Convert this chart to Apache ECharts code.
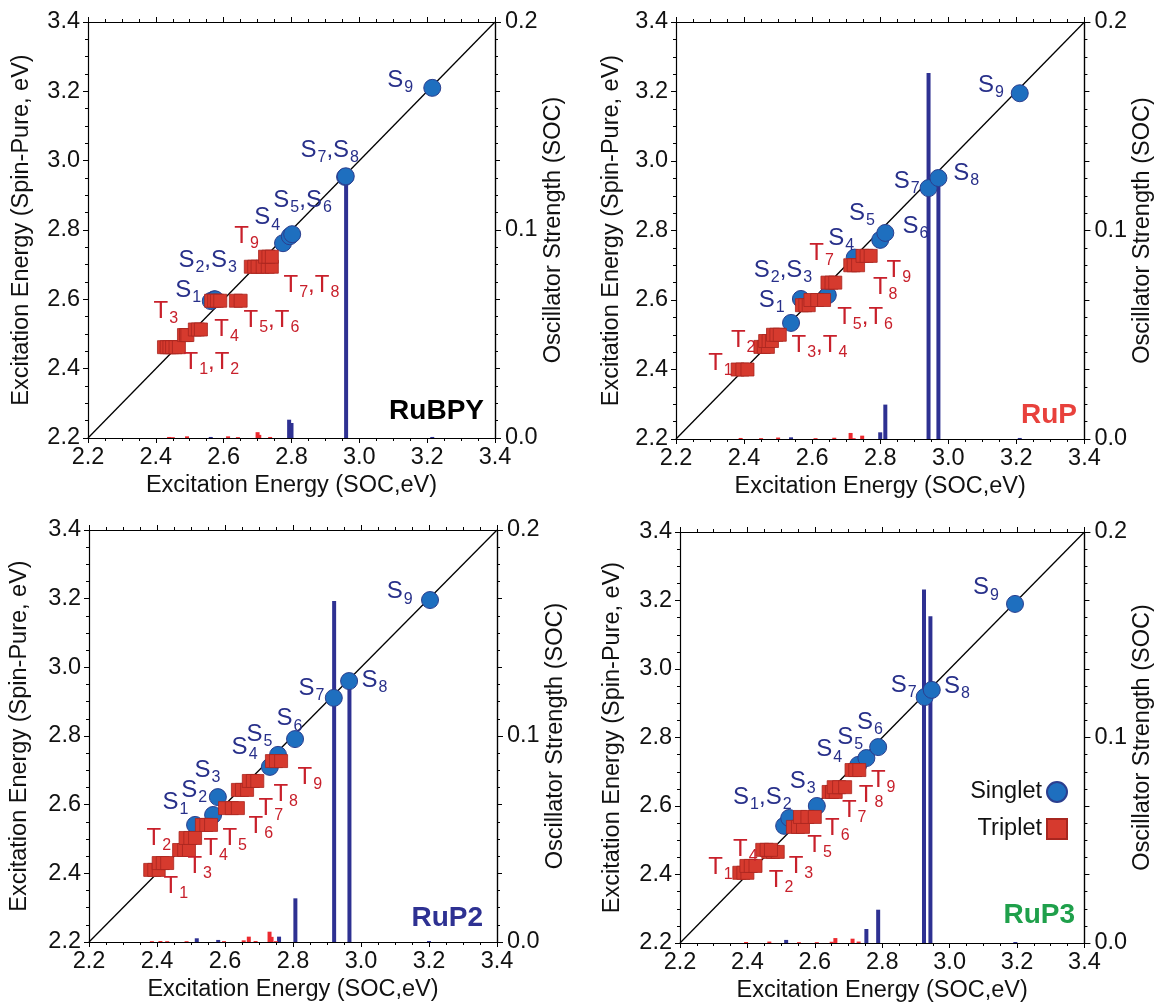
<!DOCTYPE html>
<html><head><meta charset="utf-8">
<script src="https://cdn.jsdelivr.net/npm/echarts@6/dist/echarts.min.js"></script>
<style>html,body{margin:0;padding:0;background:#fff}#c{width:1156px;height:1006px}</style>
</head><body><div id="c"></div>
<script>
// ---------- tick labels ----------
const energyTicks = ['2.2', '2.4', '2.6', '2.8', '3.0', '3.2', '3.4'];
const oscTicks = ['0.0', '0.1', '0.2'];
const panelNames = ['RuBPY', 'RuP', 'RuP2', 'RuP3'];

// ---------- RuBPY ----------  [SOC energy, spin-pure energy]
const rubpySinglets = [[2.562, 2.595], [2.572, 2.600], [2.575, 2.600], [2.775, 2.762], [2.795, 2.782], [2.802, 2.788], [2.958, 2.953], [2.960, 2.955], [3.215, 3.210]];
const rubpyTriplets = [
  [2.424, 2.462], [2.432, 2.462], [2.440, 2.462], [2.448, 2.462], [2.458, 2.462], [2.468, 2.462],
  [2.483, 2.497], [2.489, 2.497], [2.493, 2.497],
  [2.515, 2.513], [2.524, 2.513], [2.533, 2.513],
  [2.563, 2.596], [2.572, 2.596], [2.580, 2.596], [2.590, 2.596], [2.636, 2.596], [2.650, 2.596],
  [2.680, 2.694], [2.690, 2.694], [2.700, 2.694], [2.715, 2.694], [2.730, 2.694], [2.742, 2.694],
  [2.722, 2.723], [2.732, 2.723], [2.742, 2.723]];
const rubpySingletBars = [[2.562, 0.0005], [2.793, 0.0088], [2.800, 0.0072], [2.961, 0.125], [3.215, 0.0005]];
const rubpyTripletBars = [[2.439, 0.0005], [2.450, 0.0004], [2.492, 0.0008], [2.613, 0.0008], [2.642, 0.0004], [2.700, 0.0028], [2.705, 0.0015], [2.737, 0.0005]];
const rubpyLabels = [['S9', 3.081, 3.233], ['S7,S8', 2.825, 3.031], ['S5,S6', 2.745, 2.886], ['S4', 2.689, 2.835], ['S2,S3', 2.465, 2.713], ['S1', 2.456, 2.627],
  ['T9', 2.630, 2.783], ['T7,T8', 2.775, 2.641], ['T5,T6', 2.657, 2.540], ['T4', 2.571, 2.514], ['T3', 2.392, 2.566], ['T1,T2', 2.480, 2.419]];

// ---------- RuP ----------
const rupSinglets = [[2.538, 2.534], [2.567, 2.603], [2.646, 2.614], [2.725, 2.722], [2.800, 2.773], [2.815, 2.793], [2.942, 2.922], [2.971, 2.951], [3.210, 3.195]];
const rupTriplets = [
  [2.381, 2.400], [2.395, 2.400], [2.410, 2.400],
  [2.448, 2.465], [2.458, 2.465], [2.470, 2.465],
  [2.462, 2.482], [2.472, 2.482], [2.482, 2.482],
  [2.485, 2.500], [2.495, 2.500], [2.505, 2.500],
  [2.570, 2.585], [2.580, 2.585], [2.590, 2.585],
  [2.595, 2.600], [2.615, 2.600], [2.635, 2.600],
  [2.645, 2.650], [2.657, 2.650], [2.668, 2.650],
  [2.712, 2.700], [2.722, 2.700], [2.735, 2.700],
  [2.748, 2.727], [2.760, 2.727], [2.772, 2.727]];
const rupSingletBars = [[2.538, 0.0008], [2.800, 0.0032], [2.815, 0.0165], [2.942, 0.1755], [2.971, 0.124], [3.210, 0.0005]];
const rupTripletBars = [[2.390, 0.0005], [2.450, 0.0004], [2.500, 0.0007], [2.610, 0.0004], [2.665, 0.0006], [2.713, 0.0029], [2.722, 0.0004], [2.747, 0.0016]];
const rupLabels = [['S9', 3.086, 3.219], ['S7', 2.838, 2.942], ['S8', 3.013, 2.965], ['S5', 2.707, 2.850], ['S4', 2.646, 2.778], ['S6', 2.864, 2.813],
  ['S2,S3', 2.427, 2.686], ['S1', 2.442, 2.600], ['T7', 2.590, 2.735], ['T9', 2.817, 2.686], ['T8', 2.777, 2.637], ['T5,T6', 2.672, 2.551],
  ['T2', 2.360, 2.485], ['T3,T4', 2.538, 2.470], ['T1', 2.293, 2.419]];

// ---------- RuP2 ----------
const rup2Singlets = [[2.512, 2.541], [2.565, 2.570], [2.579, 2.622], [2.732, 2.710], [2.756, 2.745], [2.806, 2.791], [2.920, 2.911], [2.965, 2.960], [3.203, 3.196]];
const rup2Triplets = [
  [2.380, 2.410], [2.392, 2.410], [2.405, 2.410],
  [2.405, 2.430], [2.417, 2.430], [2.430, 2.430],
  [2.465, 2.468], [2.480, 2.468], [2.494, 2.468],
  [2.484, 2.503], [2.498, 2.503], [2.512, 2.503],
  [2.532, 2.541], [2.545, 2.541], [2.559, 2.541],
  [2.600, 2.590], [2.620, 2.590], [2.638, 2.590],
  [2.638, 2.643], [2.650, 2.643], [2.665, 2.643],
  [2.670, 2.669], [2.682, 2.669], [2.695, 2.669],
  [2.738, 2.727], [2.750, 2.727], [2.765, 2.727]];
const rup2SingletBars = [[2.517, 0.0018], [2.580, 0.0010], [2.759, 0.0026], [2.807, 0.0212], [2.921, 0.1655], [2.966, 0.125], [3.200, 0.0005]];
const rup2TripletBars = [[2.385, 0.0004], [2.410, 0.0005], [2.430, 0.0004], [2.487, 0.0004], [2.597, 0.0004], [2.655, 0.0008], [2.670, 0.0026], [2.690, 0.0005], [2.731, 0.0050], [2.737, 0.0025], [2.750, 0.0004]];
const rup2Labels = [['S9', 3.074, 3.220], ['S7', 2.815, 2.940], ['S8', 3.000, 2.963], ['S6', 2.750, 2.850], ['S5', 2.662, 2.806], ['S4', 2.618, 2.768],
  ['S3', 2.509, 2.700], ['S2', 2.470, 2.643], ['S1', 2.415, 2.608], ['T9', 2.812, 2.680], ['T8', 2.741, 2.631], ['T7', 2.697, 2.590],
  ['T6', 2.668, 2.538], ['T5', 2.591, 2.503], ['T4', 2.535, 2.474], ['T3', 2.488, 2.421], ['T2', 2.368, 2.503], ['T1', 2.418, 2.363]];

// ---------- RuP3 ----------
const rup3Singlets = [[2.509, 2.542], [2.524, 2.565], [2.606, 2.600], [2.729, 2.720], [2.753, 2.740], [2.788, 2.772], [2.926, 2.918], [2.947, 2.939], [3.194, 3.190]];
const rup3Triplets = [
  [2.376, 2.405], [2.388, 2.405], [2.400, 2.405],
  [2.397, 2.425], [2.410, 2.425], [2.424, 2.425],
  [2.462, 2.466], [2.476, 2.466], [2.490, 2.466],
  [2.444, 2.472], [2.457, 2.472], [2.470, 2.472],
  [2.535, 2.539], [2.550, 2.539], [2.565, 2.539],
  [2.556, 2.568], [2.578, 2.568], [2.600, 2.568],
  [2.641, 2.641], [2.651, 2.641], [2.662, 2.641],
  [2.656, 2.655], [2.672, 2.655], [2.690, 2.655],
  [2.709, 2.705], [2.720, 2.705], [2.732, 2.705]];
const rup3SingletBars = [[2.515, 0.0015], [2.753, 0.0068], [2.788, 0.0162], [2.924, 0.172], [2.943, 0.159], [3.195, 0.0005]];
const rup3TripletBars = [[2.396, 0.0005], [2.465, 0.0007], [2.553, 0.0004], [2.606, 0.0004], [2.650, 0.0006], [2.661, 0.0024], [2.712, 0.0021], [2.730, 0.0007]];
const rup3Labels = [['S9', 3.068, 3.237], ['S7', 2.824, 2.953], ['S8', 2.982, 2.950], ['S6', 2.724, 2.845], ['S5', 2.665, 2.801], ['S4', 2.603, 2.764],
  ['S3', 2.524, 2.673], ['S1,S2', 2.356, 2.626], ['T9', 2.765, 2.676], ['T8', 2.729, 2.632], ['T7', 2.679, 2.588], ['T6', 2.629, 2.536],
  ['T5', 2.576, 2.486], ['T4', 2.356, 2.474], ['T3', 2.521, 2.425], ['T2', 2.462, 2.384], ['T1', 2.282, 2.422]];

// ---------- assembly ----------
const panels = [
  {singlets: rubpySinglets, triplets: rubpyTriplets, sBars: rubpySingletBars, tBars: rubpyTripletBars, labels: rubpyLabels},
  {singlets: rupSinglets, triplets: rupTriplets, sBars: rupSingletBars, tBars: rupTripletBars, labels: rupLabels},
  {singlets: rup2Singlets, triplets: rup2Triplets, sBars: rup2SingletBars, tBars: rup2TripletBars, labels: rup2Labels},
  {singlets: rup3Singlets, triplets: rup3Triplets, sBars: rup3SingletBars, tBars: rup3TripletBars, labels: rup3Labels}
];
const layout = [
  {left: 88, top: 22, width: 407, height: 416, lGap: 54, rGap: 41, title: {right: 672, top: 397, color: '#000'}},
  {left: 676, top: 22, width: 410, height: 417, lGap: 52, rGap: 45, title: {right: 79, top: 401, color: '#e8413c'}},
  {left: 89, top: 530, width: 408, height: 412, lGap: 57, rGap: 41, title: {right: 673, top: 904, color: '#2e3192'}},
  {left: 680, top: 532, width: 408, height: 411, lGap: 55, rGap: 44, title: {right: 81, top: 901, color: '#1fa04b'}}
];
const FONT = '"Liberation Sans", Arial, Helvetica, sans-serif';
const BLACK = '#000';
const S_COLOR = '#28308a', T_COLOR = '#c8202b';

function richText(t) {
  const k = t[0] === 'S' ? 'S' : 'T';
  return t.split(',').map(p => '{m' + k + '|' + p[0] + '}{s' + k + '|' + p.slice(1) + '}').join('{m' + k + '|,}');
}
function fmtEnergy(v) { const i = energyTicks.findIndex(s => Math.abs(parseFloat(s) - v) < 1e-6); return i >= 0 ? energyTicks[i] : ''; }
function fmtOsc(v) { const i = oscTicks.findIndex(s => Math.abs(parseFloat(s) - v) < 1e-6); return i >= 0 ? oscTicks[i] : ''; }

const grid = [], xAxis = [], yAxis = [], series = [], title = [];
const lineStyle = {color: BLACK, width: 1.2};
const tickBase = {show: true, inside: false, length: 5, lineStyle: {color: BLACK, width: 1}};
const minorBase = {show: true, splitNumber: 4, length: 3, lineStyle: {color: BLACK, width: 1}};
const labelFont = {fontSize: 23.5, color: '#111', fontFamily: FONT};
const mainTok = {fontSize: 24, lineHeight: 27, fontFamily: FONT, opacity: 1};
const subTok = {fontSize: 16, lineHeight: 16, padding: [15, 0, 0, 1], fontFamily: FONT, opacity: 1};

panels.forEach((p, i) => {
  const L = layout[i];
  grid.push({left: L.left, top: L.top, width: L.width, height: L.height, containLabel: false});
  const eMin = parseFloat(energyTicks[0]), eMax = parseFloat(energyTicks[energyTicks.length - 1]);
  xAxis.push({type: 'value', gridIndex: i, position: 'bottom', min: eMin, max: eMax, interval: 0.2,
    axisLine: {show: true, lineStyle}, axisTick: tickBase, minorTick: minorBase, splitLine: {show: false},
    axisLabel: Object.assign({margin: 8, formatter: fmtEnergy}, labelFont),
    name: 'Excitation Energy (SOC,eV)', nameLocation: 'middle', nameGap: 36, nameTextStyle: labelFont});
  xAxis.push({type: 'value', gridIndex: i, position: 'top', min: eMin, max: eMax, interval: 0.2,
    axisLine: {show: true, lineStyle}, axisTick: tickBase, minorTick: minorBase, splitLine: {show: false},
    axisLabel: {show: false}});
  yAxis.push({type: 'value', gridIndex: i, position: 'left', min: eMin, max: eMax, interval: 0.2,
    axisLine: {show: true, lineStyle}, axisTick: tickBase, minorTick: minorBase, splitLine: {show: false},
    axisLabel: Object.assign({margin: 8, formatter: fmtEnergy}, labelFont),
    name: 'Excitation Energy (Spin-Pure, eV)', nameLocation: 'middle', nameRotate: 90, nameGap: L.lGap, nameTextStyle: labelFont});
  yAxis.push({type: 'value', gridIndex: i, position: 'right', min: eMin, max: eMax, interval: 0.2,
    axisLine: {show: true, lineStyle}, axisTick: tickBase, minorTick: minorBase, splitLine: {show: false},
    axisLabel: {show: false}});
  yAxis.push({type: 'value', gridIndex: i, position: 'right', min: 0, max: parseFloat(oscTicks[oscTicks.length - 1]), interval: 0.1,
    axisLine: {show: true, lineStyle}, axisTick: {show: true, inside: false, length: 6, lineStyle: {color: BLACK, width: 1}}, splitLine: {show: false},
    axisLabel: Object.assign({margin: 10, formatter: fmtOsc}, labelFont),
    name: 'Oscillator Strength (SOC)', nameLocation: 'middle', nameRotate: 90, nameGap: L.rGap, nameTextStyle: labelFont});

  const xb = 2 * i, yl = 3 * i, yo = 3 * i + 2;
  series.push({type: 'bar', name: 'sbar' + i, xAxisIndex: xb, yAxisIndex: yo, data: p.sBars, barWidth: 4, barGap: '-100%',
    itemStyle: {color: '#2e3192'}, z: 1, silent: true});
  series.push({type: 'bar', name: 'tbar' + i, xAxisIndex: xb, yAxisIndex: yo, data: p.tBars, barWidth: 4, barGap: '-100%',
    itemStyle: {color: '#ec2a2f'}, z: 1, silent: true});
  series.push({type: 'line', name: 'diag' + i, xAxisIndex: xb, yAxisIndex: yl, data: [[eMin, eMin], [eMax, eMax]], symbol: 'none',
    lineStyle: {color: BLACK, width: 1.3}, z: 2, silent: true});
  series.push({type: 'scatter', name: 'Singlet', xAxisIndex: xb, yAxisIndex: yl, data: p.singlets, symbol: 'circle', symbolSize: 17,
    itemStyle: {color: '#1e6fbf', borderColor: '#2b3f8f', borderWidth: 1, opacity: 1}, z: 3});
  series.push({type: 'scatter', name: 'Triplet', xAxisIndex: xb, yAxisIndex: yl, data: p.triplets, symbol: 'rect', symbolSize: 13,
    itemStyle: {color: '#d63a2e', borderColor: '#a8261f', borderWidth: 0.8, opacity: 1}, z: 4});
  series.push({type: 'scatter', name: 'lab' + i, xAxisIndex: xb, yAxisIndex: yl, symbolSize: 1, z: 5, silent: true,
    itemStyle: {color: 'rgba(0,0,0,0)'},
    data: p.labels.map(l => ({value: [l[1], l[2]], name: l[0]})),
    label: {show: true, position: 'right', distance: 0, fontFamily: FONT, opacity: 1,
      formatter: d => richText(d.name),
      rich: {
        mS: Object.assign({color: S_COLOR}, mainTok), sS: Object.assign({color: S_COLOR}, subTok),
        mT: Object.assign({color: T_COLOR}, mainTok), sT: Object.assign({color: T_COLOR}, subTok)}}});
  title.push({text: panelNames[i], right: L.title.right, top: L.title.top, padding: 0,
    textStyle: {fontSize: 28, fontWeight: 'bold', color: L.title.color, fontFamily: FONT}});
});

const chart = echarts.init(document.getElementById('c'), null, {renderer: 'canvas'});
chart.setOption({
  animation: false,
  backgroundColor: '#fff',
  title, grid, xAxis, yAxis, series,
  legend: {data: [{name: 'Singlet', icon: 'circle'}, {name: 'Triplet', icon: 'rect'}],
    orient: 'vertical', align: 'right', right: 88, top: 775, itemWidth: 20, itemHeight: 20, itemGap: 13, padding: [5, 0, 5, 5],
    textStyle: {fontSize: 23.5, color: '#111', fontFamily: FONT}, selectedMode: false}
});
</script></body></html>
